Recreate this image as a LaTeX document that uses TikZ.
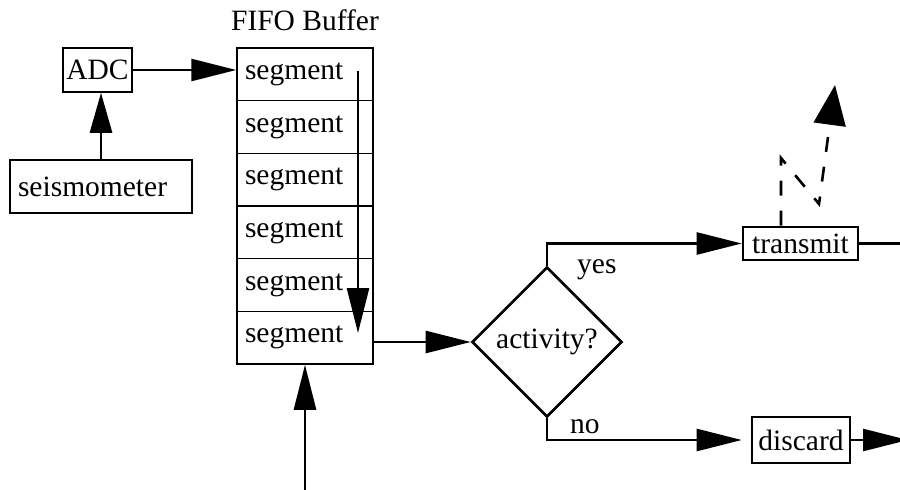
\documentclass[tikz,border=0pt]{standalone}
\usepackage{fontspec}
\setmainfont{Liberation Serif}
\usetikzlibrary{arrows.meta,shapes.geometric}
\begin{document}
\begin{tikzpicture}[x=1pt,y=-1pt,font=\fontsize{29.5}{34}\selectfont,
  conn/.style={line width=2.6pt,-{Triangle[length=45pt,width=22pt]}},
  plainline/.style={line width=2.6pt},
  thinbox/.style={draw,line width=1.5pt,inner sep=0pt},
  thickbox/.style={draw,line width=2.6pt,inner sep=0pt},
  seg/.style={draw,line width=1.5pt,inner xsep=8pt,inner ysep=0pt,text width=120pt,align=left,minimum height=52.67pt},
  decision/.style={draw,diamond,aspect=1,line width=2.6pt,inner sep=0pt,minimum width=150pt,minimum height=150pt},
  dasharrow/.style={line width=2.6pt,dash pattern=on 15pt off 15pt,-{Triangle[length=40pt,width=32pt]}},
  lbl/.style={inner sep=0pt}
]
\clip (0,0) rectangle (900,490);
% boxes
\node[thinbox,minimum width=69pt,minimum height=44pt] (adc) at (97.5,70) {ADC};
\node[draw,line width=1.8pt,inner xsep=8pt,inner ysep=0pt,text width=166pt,align=left,minimum height=53pt] (seis) at (101,186.5) {seismometer};
\node[seg] (f1) at (305,74.3) {segment};
\node[seg] (f2) at (305,127.0) {segment};
\node[seg] (f3) at (305,179.7) {segment};
\node[seg] (f4) at (305,232.3) {segment};
\node[seg] (f5) at (305,285.0) {segment};
\node[seg] (f6) at (305,337.7) {segment};
\node[lbl,anchor=base] (title) at (305,30) {FIFO Buffer};
\node[decision] (act) at (547,342) {activity?};
\node[thickbox,minimum width=115pt,minimum height=33pt] (tx) at (800.5,243.5) {transmit};
\node[thickbox,minimum width=98pt,minimum height=46pt] (disc) at (801,440) {discard};
\node[lbl,anchor=base west] (yes) at (577,273) {yes};
\node[lbl,anchor=base west] (no) at (570,433) {no};
% coordinates
\coordinate (dtop) at (358,71);
\coordinate (dbot) at (358,333);
\coordinate (bin) at (305,495);
\coordinate (txout) at (905,243.5);
\coordinate (discout) at (908,440);
\coordinate (z1) at (781,158);
\coordinate (z2) at (819,204);
\coordinate (z3) at (835,85);
% connectors
\draw[line width=2.6pt,-{Triangle[length=40pt,width=22pt]}] (seis.north) -- (seis.north |- adc.south);
\draw[conn] (adc.east) -- (adc.east -| f1.west);
\draw[conn] (dtop) -- (dbot);
\draw[conn] (bin) -- (f6.south);
\draw[conn] (act.west -| f6.east) -- (act.west);
\draw[conn] (act.north) |- (tx.west);
\draw[conn,shorten >=9pt] (act.south) |- (disc.west);
\draw[plainline] (tx.east) -- (txout);
\draw[conn] (disc.east) -- (discout);
\draw[dasharrow] (tx.north -| z1) -- (z1) -- (z2) -- (z3);
\end{tikzpicture}
\end{document}
